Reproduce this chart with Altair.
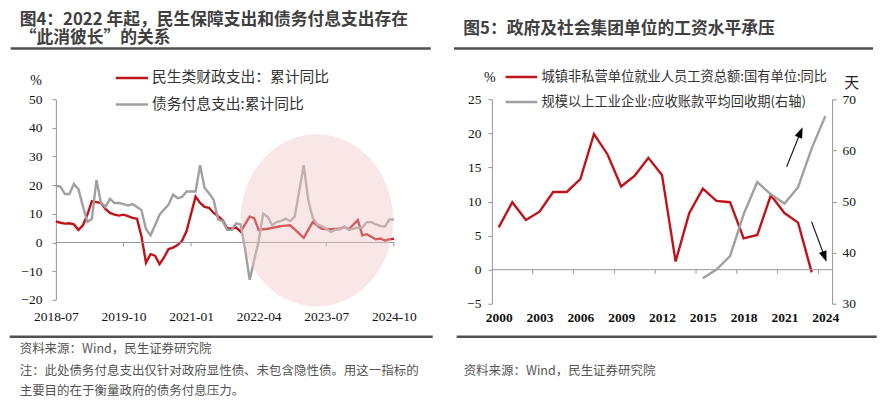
import altair as alt
import pandas as pd

# ---------------- Figure 4 data (monthly, 2018-07 .. 2024-10) ----------------
MONTHS = pd.date_range("2018-07-01", "2024-10-01", freq="MS").strftime("%Y-%m").tolist()
SOCIAL_YOY = [7.4, 6.9, 6.6, 6.7, 6.3, 4.4, 6.0, 9.8, 14.4, 14.1,
              13.8, 11.7, 10.3, 9.7, 9.4, 9.7, 9.2, 8.6, 8.3, 2.1,
              -7.1, -4.1, -4.6, -7.6, -5.2, -2.3, -1.8, -0.9, 0.6, 4.0,
              None, 16.0, 13.8, 12.4, 12.1, 10.3, 9.2, 7.8, 4.9, 4.9,
              5.2, 3.8, None, 9.0, 8.5, 4.4, 4.6, 4.8, 5.1, 5.4,
              5.7, 5.9, 6.0, 4.6, None, 1.6, 4.4, 7.1, 5.9, 4.8,
              4.7, 4.6, 4.7, 4.8, 5.5, 4.6, None, 7.8, 2.5, 2.9,
              2.0, 1.1, 1.4, 0.7, 1.1, 1.3]
INTEREST_YOY = [19.8, 19.5, 16.9, 16.9, 20.4, 18.6, 12.6, 7.2, 8.3, 21.8,
                14.0, 12.4, 15.2, 13.8, 13.8, 13.4, 12.9, 13.4, 12.4, 11.3,
                4.6, 2.5, 6.0, 9.7, 11.5, 13.2, 16.7, 15.5, 15.9, 17.8,
                17.8, 17.8, 27.0, 19.0, 17.2, 14.9, 8.0, 7.5, 4.4, 4.4,
                6.7, 6.3, -2.3, -13.0, None, 0.5, 10.1, 9.0, 6.0, 7.1,
                7.5, 8.3, 7.5, 9.0, None, 27.0, 14.9, 8.6, 6.3, 5.7,
                4.8, 3.7, 4.4, 4.6, 5.5, 4.4, 4.8, 5.2, 5.2, 7.1,
                7.1, 6.3, 5.8, 5.5, 8.0, 8.0]
LEFT_X_TICKS = ["2018-07", "2019-10", "2021-01", "2022-04", "2023-07", "2024-10"]
LEFT_Y_TICKS = [-20, -10, 0, 10, 20, 30, 40, 50]

# ---------------- Figure 5 data (annual) ----------------
WAGE_YEARS = list(range(2000, 2024))
WAGE_YOY = [6.2, 9.9, 7.3, 8.5, 11.4, 11.4, 13.3, 19.9, 16.9, 12.2,
            13.8, 16.4, 13.9, 1.2, 8.3, 11.9, 10.1, 9.9, 4.6, 5.1,
            10.9, 8.3, 6.9, -0.4]
AR_YEARS = list(range(2015, 2025))
AR_DAYS = [35.0, 36.7, 39.3, 47.5, 53.8, 51.4, 49.6, 52.8, 60.4, 66.7]
RIGHT_X_TICKS = [2000, 2003, 2006, 2009, 2012, 2015, 2018, 2021, 2024]
RIGHT_TICK_MARKS = [2002.5, 2005.5, 2008.5, 2011.5, 2014.5, 2017.5, 2020.5, 2023.5]
RIGHT_Y_TICKS = [-5, 0, 5, 10, 15, 20, 25]
RIGHT_Y2_TICKS = [30, 40, 50, 60, 70]

# ---------------- styling / layout ----------------
RED = "#C0141A"
GRAY = "#A0A0A0"
AXIS_GRAY = "#969696"
CJK = "Noto Sans CJK SC"
SERIF = "Liberation Serif"
TITLE_C = "#404040"
FOOT_C = "#555555"

W4, H4 = 341, 201
W5, H5 = 341, 205
SPACING = 96
O4 = (54.3, 99.0)
O5 = (54.3 + W4 + SPACING, 99.0)

ELLIPSE = "M-0.886,0A0.886,1,0,1,1,0.886,0A0.886,1,0,1,1,-0.886,0Z"
HEAD = "M0,-1L0.72,1L-0.72,1Z"

one = pd.DataFrame({"k": [0]})


def text_layer(origin, s, px, py, size, weight="normal", color="#333333", font=CJK):
    return alt.Chart(pd.DataFrame({"t": [s]})).mark_text(
        align="left", baseline="middle", font=font, fontSize=size,
        fontWeight=weight, color=color
    ).encode(x=alt.value(px - origin[0]), y=alt.value(py - origin[1]), text="t:N")


def hrule(origin, x0, x1, py, color, width):
    return alt.Chart(one).mark_rule(color=color, strokeWidth=width).encode(
        x=alt.value(x0 - origin[0]), x2=alt.value(x1 - origin[0]),
        y=alt.value(py - origin[1]))


# ================= Panel 4 =================
def midx(s):
    return (int(s[:4]) - 2018) * 12 + int(s[5:7]) - 7


df4 = pd.DataFrame({"idx": [midx(m) for m in MONTHS], "social": SOCIAL_YOY,
                    "interest": INTEREST_YOY})
soc = df4[["idx", "social"]].dropna()
intr = df4[["idx", "interest"]].dropna()
tick_idx = [midx(t) for t in LEFT_X_TICKS]
label_expr = "[" + ",".join(f"'{t}'" for t in LEFT_X_TICKS) + "][round(datum.value/15)]"

xs4 = alt.Scale(domain=[0, 75.5], nice=False, zero=False)
ys4 = alt.Scale(domain=[-20, 50], nice=False, zero=False)

AX4X = alt.Axis(values=tick_idx, labelExpr=label_expr, domain=False, ticks=False,
                tickSize=0, labelPadding=10, labelFont=SERIF, labelFontSize=13.5,
                labelColor="#111111", labelFlush=False, labelOverlap=False,
                grid=False, title=None)
AX4Y = alt.Axis(values=LEFT_Y_TICKS, tickSize=4, tickColor=AXIS_GRAY,
                domainColor=AXIS_GRAY, labelPadding=10, labelFont=SERIF,
                labelFontSize=13.5, labelColor="#111111", labelFlush=False,
                grid=False, title=None)

bounds_rect = alt.Chart(one).mark_rect(opacity=0).encode(
    x=alt.value(8 - O4[0]), x2=alt.value(878 - O4[0]),
    y=alt.value(8 - O4[1]), y2=alt.value(396 - O4[1]))

red4 = alt.Chart(soc).mark_line(color=RED, strokeWidth=2.4).encode(
    x=alt.X("idx:Q", scale=xs4, axis=AX4X),
    y=alt.Y("social:Q", scale=ys4, axis=AX4Y))

gray4 = alt.Chart(intr).mark_line(color=GRAY, strokeWidth=2.4).encode(
    x=alt.X("idx:Q", scale=xs4, axis=AX4X),
    y=alt.Y("interest:Q", scale=ys4, axis=AX4Y))

zero4 = alt.Chart(one).mark_rule(color=AXIS_GRAY, strokeWidth=1).encode(
    x=alt.X(datum=0, scale=xs4, axis=AX4X), x2=alt.datum(75),
    y=alt.Y(datum=0, scale=ys4, axis=AX4Y))

ticks4 = alt.Chart(pd.DataFrame({"idx": tick_idx[1:]})).mark_rule(
    color=AXIS_GRAY, strokeWidth=1).encode(
    x=alt.X("idx:Q", scale=xs4, axis=AX4X),
    y=alt.Y(datum=0, scale=ys4, axis=AX4Y), y2=alt.datum(-1.4))

circle = alt.Chart(one).mark_point(
    shape=ELLIPSE, size=29791, filled=True, color="#F0C3C3", opacity=0.42,
    strokeWidth=0).encode(
    x=alt.X(datum=57.9, scale=xs4, axis=AX4X),
    y=alt.Y(datum=7.75, scale=ys4, axis=AX4Y))

p4_layers = [
    red4, bounds_rect, zero4, ticks4, gray4, circle,
    text_layer(O4, "%", 28.5, 80.7, 14, font=SERIF, color="#111111"),
    hrule(O4, 114.3, 146.7, 77.7, RED, 2.6),
    text_layer(O4, "民生类财政支出：累计同比", 150.7, 77.7, 14.8),
    hrule(O4, 114.3, 146.7, 104.3, GRAY, 2.6),
    text_layer(O4, "债务付息支出:累计同比", 150.7, 104.3, 14.8),
    text_layer(O4, "图4：2022 年起，民生保障支出和债务付息支出存在", 18, 19.4, 16.8, "bold", TITLE_C),
    text_layer(O4, "“此消彼长”的关系", 18, 38.0, 16.8, "bold", TITLE_C),
    hrule(O4, 9, 430, 48.2, "#505050", 2.5),
    hrule(O4, 8, 432, 337, "#505050", 2.5),
    text_layer(O4, "资料来源：Wind，民生证券研究院", 18, 349.5, 12.5, color=FOOT_C),
    text_layer(O4, "注：此处债务付息支出仅针对政府显性债、未包含隐性债。用这一指标的", 18, 371, 12.5, color=FOOT_C),
    text_layer(O4, "主要目的在于衡量政府的债务付息压力。", 18, 391.5, 12.5, color=FOOT_C),
]
p4 = alt.layer(*p4_layers).properties(width=W4, height=H4)

# ================= Panel 5 =================
wage = pd.DataFrame({"year": WAGE_YEARS, "wage": WAGE_YOY})
ar = pd.DataFrame({"year": AR_YEARS, "days": AR_DAYS})

xs5 = alt.Scale(domain=[1999.5, 2024.5], nice=False, zero=False)
ys5 = alt.Scale(domain=[-5, 25], nice=False, zero=False)
ys5r = alt.Scale(domain=[30, 70], nice=False, zero=False)

AX5X = alt.Axis(values=RIGHT_X_TICKS, format="d", domain=False, ticks=False, tickSize=0,
                labelPadding=7, labelFont=SERIF, labelFontSize=13.5,
                labelFontWeight="bold", labelColor="#111111", labelFlush=False,
                labelOverlap=False, grid=False, title=None)
AX5Y = alt.Axis(values=RIGHT_Y_TICKS, tickSize=4, tickColor=AXIS_GRAY,
                domainColor=AXIS_GRAY, labelPadding=7, labelFont=SERIF,
                labelFontSize=13.5, labelColor="#111111", labelFlush=False,
                grid=False, title=None)
AX5Y2 = alt.Axis(orient="right", values=RIGHT_Y2_TICKS, tickSize=4, tickColor=AXIS_GRAY,
                 domainColor=AXIS_GRAY, labelPadding=6, labelFont=SERIF,
                 labelFontSize=13.5, labelColor="#111111", labelFlush=False,
                 grid=False, title=None)

red5 = alt.Chart(wage).mark_line(color=RED, strokeWidth=2.4).encode(
    x=alt.X("year:Q", scale=xs5, axis=AX5X),
    y=alt.Y("wage:Q", scale=ys5, axis=AX5Y))

zero5 = alt.Chart(one).mark_rule(color=AXIS_GRAY, strokeWidth=1).encode(
    x=alt.X(datum=1999.5, scale=xs5, axis=AX5X), x2=alt.datum(2024.5),
    y=alt.Y(datum=0, scale=ys5, axis=AX5Y))

ticks5 = alt.Chart(pd.DataFrame({"year": RIGHT_TICK_MARKS})).mark_rule(
    color=AXIS_GRAY, strokeWidth=1).encode(
    x=alt.X("year:Q", scale=xs5, axis=AX5X),
    y=alt.Y(datum=0, scale=ys5, axis=AX5Y), y2=alt.datum(-0.6))

# arrows (annotation, in data coordinates of the left scale)
arrows = pd.DataFrame({
    "x": [2021.16, 2022.99], "y": [15.09, 7.04],
    "hx": [2022.18, 2023.95], "hy": [20.16, 1.91],
})
arrow_lines = alt.Chart(arrows).mark_rule(color="#111111", strokeWidth=1.1).encode(
    x=alt.X("x:Q", scale=xs5, axis=AX5X), x2="hx:Q",
    y=alt.Y("y:Q", scale=ys5, axis=AX5Y), y2="hy:Q")
head_up = alt.Chart(arrows.iloc[[0]]).mark_point(
    shape=HEAD, size=121, filled=True, color="#000000", opacity=1, angle=21.9).encode(
    x=alt.X("hx:Q", scale=xs5, axis=AX5X), y=alt.Y("hy:Q", scale=ys5, axis=AX5Y))
head_down = alt.Chart(arrows.iloc[[1]]).mark_point(
    shape=HEAD, size=121, filled=True, color="#000000", opacity=1, angle=159.6).encode(
    x=alt.X("hx:Q", scale=xs5, axis=AX5X), y=alt.Y("hy:Q", scale=ys5, axis=AX5Y))

left5 = alt.layer(
    red5, zero5, ticks5, arrow_lines, head_up, head_down,
    text_layer(O5, "%", 483.5, 77.3, 14, font=SERIF, color="#111111"),
    text_layer(O5, "天", 844.5, 82.7, 15, color="#222222"),
    hrule(O5, 505, 536.7, 76.7, RED, 2.6),
    text_layer(O5, "城镇非私营单位就业人员工资总额:国有单位:同比", 541, 76.7, 13.3),
    hrule(O5, 505, 536.7, 101.7, GRAY, 2.6),
    text_layer(O5, "规模以上工业企业:应收账款平均回收期(右轴)", 541, 101.7, 13.3),
    text_layer(O5, "图5：政府及社会集团单位的工资水平承压", 462.7, 29.0, 16.8, "bold", TITLE_C),
    hrule(O5, 453.3, 873.3, 48.2, "#505050", 2.5),
    hrule(O5, 456, 877, 337, "#505050", 2.5),
    text_layer(O5, "资料来源：Wind，民生证券研究院", 463, 371, 12.5, color=FOOT_C),
)

gray5 = alt.Chart(ar).mark_line(color=GRAY, strokeWidth=2.4).encode(
    x=alt.X("year:Q", scale=xs5, axis=AX5X),
    y=alt.Y("days:Q", scale=ys5r, axis=AX5Y2))

p5 = alt.layer(left5, gray5).resolve_scale(y="independent").properties(width=W5, height=H5)

chart = alt.hconcat(p4, p5, spacing=SPACING, bounds="flush").properties(
    padding=0).configure_view(stroke=None)

chart.save("out.html", embed_options={"renderer": "svg", "actions": False})
